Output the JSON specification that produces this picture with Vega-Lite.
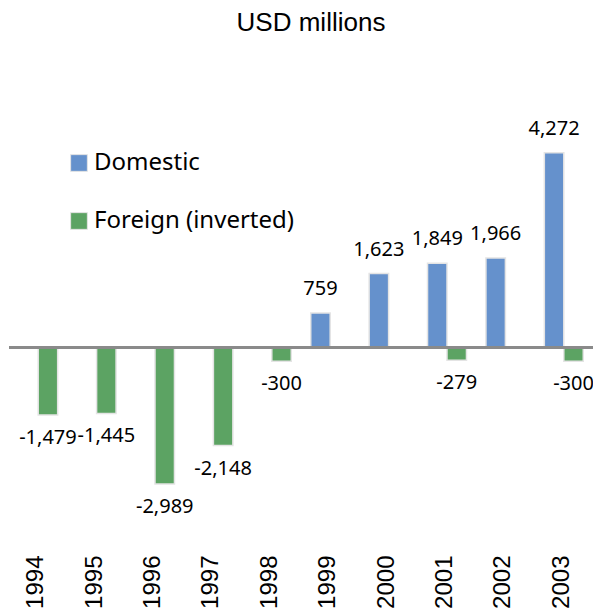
{
  "$schema": "https://vega.github.io/schema/vega-lite/v6.json",
  "autosize": {"type": "none"},
  "padding": {"left": 9, "top": 74, "right": 0, "bottom": 78},
  "width": 584,
  "height": 456,
  "background": "white",
  "title": {
    "text": "USD millions",
    "font": "Liberation Sans",
    "fontSize": 26,
    "fontWeight": "normal",
    "color": "#000000",
    "anchor": "middle",
    "dx": 10,
    "offset": 38
  },
  "config": {
    "view": {"stroke": null},
    "locale": {
      "number": {"decimal": ".", "thousands": ",", "grouping": [3], "currency": ["$", ""], "minus": "-"}
    }
  },
  "data": {
    "values": [
      {"year": "1994", "type": "Foreign (inverted)", "value": -1479},
      {"year": "1995", "type": "Foreign (inverted)", "value": -1445},
      {"year": "1996", "type": "Foreign (inverted)", "value": -2989},
      {"year": "1997", "type": "Foreign (inverted)", "value": -2148},
      {"year": "1998", "type": "Foreign (inverted)", "value": -300},
      {"year": "1999", "type": "Domestic", "value": 759},
      {"year": "2000", "type": "Domestic", "value": 1623},
      {"year": "2001", "type": "Domestic", "value": 1849},
      {"year": "2001", "type": "Foreign (inverted)", "value": -279},
      {"year": "2002", "type": "Domestic", "value": 1966},
      {"year": "2003", "type": "Domestic", "value": 4272},
      {"year": "2003", "type": "Foreign (inverted)", "value": -300}
    ]
  },
  "encoding": {
    "x": {
      "field": "year",
      "type": "nominal",
      "sort": ["1994","1995","1996","1997","1998","1999","2000","2001","2002","2003"],
      "scale": {"domain": ["1994","1995","1996","1997","1998","1999","2000","2001","2002","2003"], "paddingInner": 0.3333, "paddingOuter": 0.1667},
      "axis": {
        "title": null,
        "domain": false,
        "ticks": false,
        "labelAngle": -90,
        "labelAlign": "right",
        "labelBaseline": "middle",
        "labelPadding": 25,
        "labelOffset": -2,
        "labelFont": "Liberation Sans",
        "labelFontSize": 24,
        "labelColor": "#000000"
      }
    },
    "xOffset": {
      "field": "type",
      "type": "nominal",
      "scale": {"domain": ["Domestic", "Foreign (inverted)"], "paddingInner": 0, "paddingOuter": 0}
    },
    "y": {
      "field": "value",
      "type": "quantitative",
      "scale": {"domain": [-4000, 6000], "nice": false, "zero": true},
      "axis": null
    }
  },
  "layer": [
    {
      "mark": {"type": "bar", "stroke": "#e4e4e4", "strokeWidth": 1.5},
      "encoding": {
        "color": {
          "field": "type",
          "type": "nominal",
          "scale": {"domain": ["Domestic", "Foreign (inverted)"], "range": ["#6591cc", "#5ca363"]},
          "legend": {
            "title": null,
            "orient": "none",
            "legendX": 58,
            "legendY": 77,
            "padding": 0,
            "symbolType": "square",
            "symbolSize": 280,
            "symbolStrokeColor": "#e4e4e4",
            "symbolStrokeWidth": 1,
            "labelFont": "Noto Sans",
            "labelFontSize": 24,
            "labelColor": "#000000",
            "labelOffset": 3,
            "rowPadding": 34,
            "labelLimit": 400
          }
        }
      }
    },
    {
      "transform": [{"filter": "datum.type === 'Domestic'"}],
      "mark": {"type": "text", "baseline": "alphabetic", "dy": -18, "font": "Noto Sans", "fontSize": 20, "color": "#000000"},
      "encoding": {"text": {"field": "value", "type": "quantitative", "format": ",.0f"}}
    },
    {
      "transform": [{"filter": "datum.type !== 'Domestic'"}],
      "mark": {"type": "text", "baseline": "top", "dy": 13, "font": "Noto Sans", "fontSize": 20, "color": "#000000"},
      "encoding": {"text": {"field": "value", "type": "quantitative", "format": ",.0f"}}
    },
    {
      "mark": {"type": "rule", "color": "#8a8a8a", "strokeWidth": 2},
      "encoding": {"y": {"datum": 0}, "x": null, "xOffset": null}
    }
  ]
}
